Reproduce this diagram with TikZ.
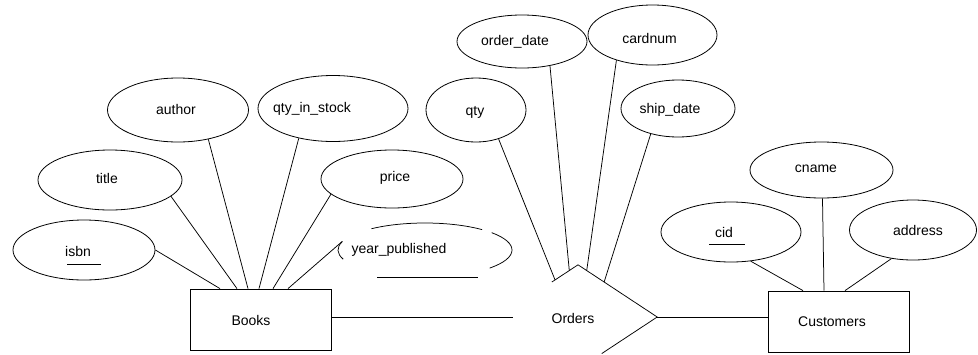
\documentclass[tikz,border=0pt]{standalone}
\usepackage{fontspec}
\setmainfont{Liberation Sans}
\usetikzlibrary{shapes.geometric,calc}
\begin{document}
\begin{tikzpicture}[x=1pt,y=-1pt,
  attr/.style={ellipse,draw,line width=0.8pt,inner sep=0pt},
  ent/.style={rectangle,draw,line width=0.8pt,inner sep=0pt,minimum width=141pt,minimum height=61pt},
  rel/.style={diamond,inner sep=0pt,minimum width=158pt,minimum height=104pt},
  lbl/.style={inner sep=0pt,font=\fontsize{14}{16}\selectfont},
  conn/.style={line width=0.75pt},
]
\useasboundingbox (0,0) rectangle (978,354);

% entities
\node[ent] (books) at (260.5,319.5) {};
\node[lbl] (booksT) at (251,320) {Books};
\node[ent] (customers) at (838.5,321.5) {};
\node[lbl] (customersT) at (832,322) {Customers};

% relationship (partially drawn diamond)
\node[rel] (orders) at (578,317) {};
\node[lbl] (ordersT) at (573,318) {Orders};
\draw[conn] ($(orders.west)!0.67!(orders.north)$) -- (orders.north) -- (orders.east)
  -- ($(orders.east)!0.7!(orders.south)$);

% Books attributes
\node[attr,minimum width=142pt,minimum height=60pt] (isbn) at (84,250) {};
\node[lbl] (isbnT) at (78,251) {isbn};
\draw[conn] ([shift={(-17,14)}]isbn.center) -- ([shift={(17,14)}]isbn.center);

\node[attr,minimum width=144pt,minimum height=60pt] (title) at (110,180) {};
\node[lbl] (titleT) at (107,178) {title};

\node[attr,minimum width=141pt,minimum height=64pt] (author) at (178,110) {};
\node[lbl] (authorT) at (176,109) {author};

\node[attr,minimum width=150pt,minimum height=66pt] (qtys) at (333,108.5) {};
\node[lbl] (qtysT) at (312,109) {qty\_in\_stock};

\node[attr,minimum width=142pt,minimum height=58pt] (price) at (392,179) {};
\node[lbl] (priceT) at (395,178) {price};

% year_published: broken ellipse
\node[ellipse,inner sep=0pt,minimum width=174pt,minimum height=54pt] (yp) at (425,250) {};
\node[lbl] (ypT) at (399,250) {year\_published};
\draw[conn] ([shift={(-128:87 and 27)}]yp.center) arc[start angle=-128,end angle=-49,x radius=87,y radius=27];
\draw[conn] ([shift={(-40:87 and 27)}]yp.center) arc[start angle=-40,end angle=42,x radius=87,y radius=27];
\draw[conn] ([shift={(160:87 and 27)}]yp.center) arc[start angle=160,end angle=198,x radius=87,y radius=27];
\draw[conn] ([shift={(-48,27)}]yp.center) -- ([shift={(53,27)}]yp.center);

% Orders attributes
\node[attr,minimum width=100pt,minimum height=64pt] (qty) at (476,110) {};
\node[lbl] (qtyT) at (475,112) {qty};

\node[attr,minimum width=130pt,minimum height=53pt] (odate) at (522,41.5) {};
\node[lbl] (odateT) at (515,42) {order\_date};

\node[attr,minimum width=129pt,minimum height=60pt] (cardnum) at (652.5,35) {};
\node[lbl] (cardnumT) at (649.5,38) {cardnum};

\node[attr,minimum width=114pt,minimum height=57pt] (sdate) at (678,108.5) {};
\node[lbl] (sdateT) at (670,110) {ship\_date};

% Customers attributes
\node[attr,minimum width=143pt,minimum height=56pt] (cname) at (821.5,170) {};
\node[lbl] (cnameT) at (816,169) {cname};

\node[attr,minimum width=140pt,minimum height=60pt] (cid) at (731,232) {};
\node[lbl] (cidT) at (724,232) {cid};
\draw[conn] ([shift={(-22,12)}]cid.center) -- ([shift={(14,12)}]cid.center);

\node[attr,minimum width=127pt,minimum height=60pt] (address) at (913,230) {};
\node[lbl] (addressT) at (918,230) {address};

% connectors: Books
\draw[conn] (isbn.east) -- ([xshift=-40.5pt]books.north);
\draw[conn] (title.-15) -- ([xshift=-23.5pt]books.north);
\draw[conn] (author.-44) -- ([xshift=-12.5pt]books.north);
\draw[conn] (qtys.221) -- ([xshift=-1.5pt]books.north);
\draw[conn] (price.194) -- ([xshift=12.5pt]books.north);
\draw[conn] (yp.174) -- ([xshift=27.5pt]books.north);

% connectors: Orders
\draw[conn] (qty.-52) -- ($(orders.north)!0.29!(orders.west)$);
\draw[conn] (odate.-41) -- ($(orders.north)!0.11!(orders.west)$);
\draw[conn] (cardnum.215) -- ($(orders.north)!0.11!(orders.east)$);
\draw[conn] (sdate.223) -- ($(orders.north)!0.33!(orders.east)$);

% connectors: Customers
\draw[conn] (cid.-56) -- ([xshift=-35.5pt]customers.north);
\draw[conn] (cname.-88) -- ([xshift=-14.5pt]customers.north);
\draw[conn] (address.233) -- ([xshift=6.5pt]customers.north);

% Books -- Orders -- Customers
\coordinate (ordL) at (513,317);
\draw[conn] (books.east |- ordL) -- (ordL);
\draw[conn] (orders.east) -- (customers.west |- orders.east);
\end{tikzpicture}
\end{document}
